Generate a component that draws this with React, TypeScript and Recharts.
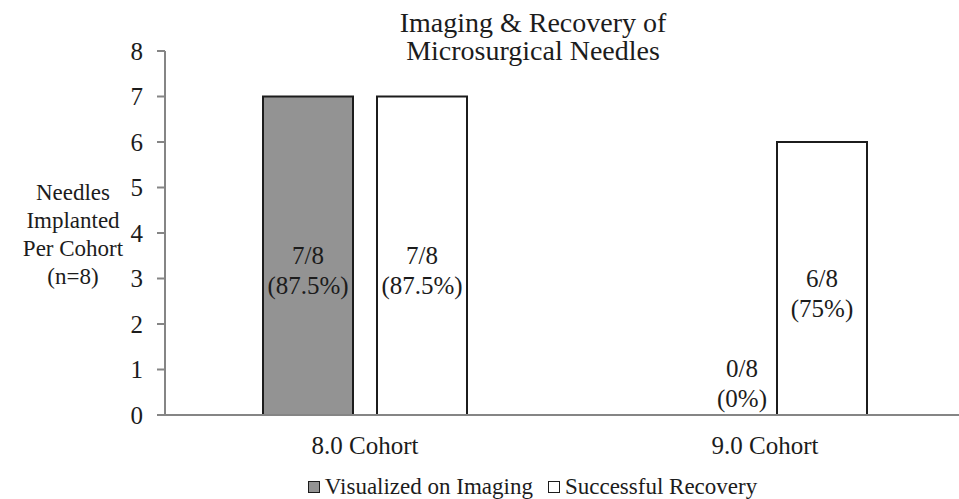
import { BarChart, Bar, XAxis, YAxis } from "recharts";

const FONT = "Liberation Serif";
const INK = "#1c1c1c";
const AXIS = "#858585";
const GRAY = "#939393";

const cohorts = ["8.0 Cohort", "9.0 Cohort"];
const visualized = [7, 0];
const recovered = [7, 6];
const cohortSize = 8;
const yTicks = [0, 1, 2, 3, 4, 5, 6, 7, 8];
const titleLines = ["Imaging & Recovery of", "Microsurgical Needles"];
const yLabelLines = ["Needles", "Implanted", "Per Cohort", "(n=8)"];
const seriesNames = ["Visualized on Imaging", "Successful Recovery"];
const seriesFills = [GRAY, "#ffffff"];

const data = cohorts.map((cohort, i) => ({
  cohort,
  visualized: visualized[i],
  recovered: recovered[i],
}));

// bar rectangle plus its "n/8 (pct%)" label; zero bars only get the label
function makeShape(key: "visualized" | "recovered") {
  return function BarWithLabel(props: any) {
    const { x, y, width, height, fill } = props;
    const value = Number(props.payload?.[key] ?? 0);
    const pct = +((value / cohortSize) * 100).toFixed(1);
    const cx = value === 0 ? x + width / 2 + 34 : x + width / 2;
    const y1 = value === 0 ? y + height - 47 : y + height / 2;
    return (
      <g>
        {value > 0 && (
          <rect x={x} y={y} width={width} height={height} fill={fill} stroke={INK} strokeWidth={2} />
        )}
        <g fontFamily={FONT} fontSize={25} fill={INK} textAnchor="middle">
          <text x={cx} y={y1} dominantBaseline="central">
            {value}/{cohortSize}
          </text>
          <text x={cx} y={y1 + 30} dominantBaseline="central">
            ({pct}%)
          </text>
        </g>
      </g>
    );
  };
}

function YLabel() {
  return (
    <text x={73} y={200} fontFamily={FONT} fontSize={23} fill={INK} textAnchor="middle">
      {yLabelLines.map((line, i) => (
        <tspan key={line} x={73} y={200 + i * 28}>
          {line}
        </tspan>
      ))}
    </text>
  );
}

export default function App() {
  return (
    <div
      style={{
        position: "absolute",
        top: 0,
        left: 0,
        width: 959,
        height: 499,
        overflow: "hidden",
        background: "#fff",
        fontFamily: FONT,
      }}
    >
      <BarChart
        width={966}
        height={499}
        data={data}
        margin={{ top: 51, right: 1, bottom: 54, left: 0 }}
        barCategoryGap="24.5%"
        barGap={24}
      >
        <XAxis
          dataKey="cohort"
          axisLine={{ stroke: AXIS, strokeWidth: 2 }}
          tickLine={false}
          tickSize={0}
          tickMargin={21}
          tick={{ fill: INK, fontSize: 25, fontFamily: FONT }}
        />
        <YAxis
          width={165}
          domain={[0, 8]}
          ticks={yTicks}
          interval={0}
          axisLine={{ stroke: AXIS, strokeWidth: 2 }}
          tickLine={{ stroke: AXIS, strokeWidth: 2 }}
          tickSize={8}
          tickMargin={14}
          tick={{ fill: INK, fontSize: 25, fontFamily: FONT }}
          label={{ content: () => <YLabel /> }}
        />
        <Bar
          dataKey="visualized"
          name={seriesNames[0]}
          fill={seriesFills[0]}
          stroke={INK}
          isAnimationActive={false}
          shape={makeShape("visualized")}
        />
        <Bar
          dataKey="recovered"
          name={seriesNames[1]}
          fill={seriesFills[1]}
          stroke={INK}
          isAnimationActive={false}
          shape={makeShape("recovered")}
        />
      </BarChart>
      <svg
        width={959}
        height={70}
        style={{ position: "absolute", top: 0, left: 0, pointerEvents: "none" }}
      >
        {titleLines.map((line, i) => (
          <text
            key={line}
            x={533}
            y={32 + i * 28}
            textAnchor="middle"
            fontFamily={FONT}
            fontSize={28}
            fill={INK}
          >
            {line}
          </text>
        ))}
      </svg>
      <div
        style={{
          position: "absolute",
          top: 475,
          left: 0,
          width: 959,
          display: "flex",
          justifyContent: "center",
          gap: 15,
          fontSize: 23,
          lineHeight: "24px",
          color: INK,
          paddingLeft: 106,
          boxSizing: "border-box",
        }}
      >
        {seriesNames.map((name, i) => (
          <div key={name} style={{ display: "flex", alignItems: "center" }}>
            <span
              style={{
                display: "inline-block",
                width: 10,
                height: 10,
                border: `1.5px solid ${INK}`,
                background: seriesFills[i],
                marginRight: 5,
              }}
            />
            <span>{name}</span>
          </div>
        ))}
      </div>
    </div>
  );
}
